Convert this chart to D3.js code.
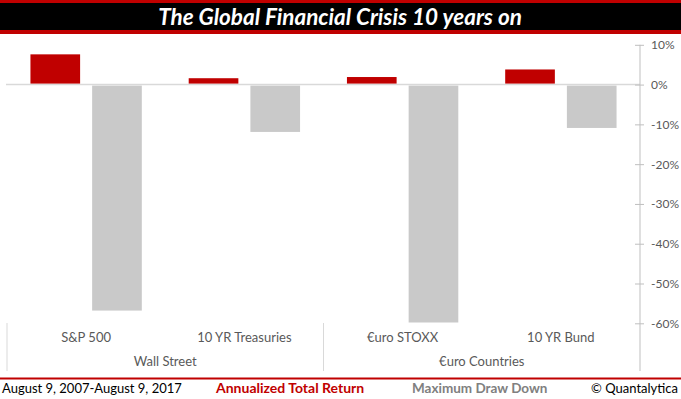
<!DOCTYPE html>
<html>
<head>
<meta charset="utf-8">
<script src="https://cdn.jsdelivr.net/npm/d3@7"></script>
<style>
  body { margin: 0; background: #fff; }
  svg { display: block; font-family: Lato, "Open Sans", sans-serif; }
</style>
</head>
<body>
<div id="chart"></div>
<script>
const width = 681, height = 399;

// Data (percent)
const assets = ["S&P 500", "10 YR Treasuries", "€uro STOXX", "10 YR Bund"];
const groups = [
    {label: "Wall Street", members: ["S&P 500", "10 YR Treasuries"]},
    {label: "€uro Countries", members: ["€uro STOXX", "10 YR Bund"]}
];
const annualReturn = [7.6, 1.6, 1.9, 3.8];
const maxDrawDown = [-56.8, -11.9, -59.8, -10.9];
const yTicks = [10, 0, -10, -20, -30, -40, -50, -60];

const seriesNames = ["Annualized Total Return", "Maximum Draw Down"];
const colorReturn = "#c00000";
const colorDrawDown = "#c9c9c9";

const rows = assets.map((a, i) => ({asset: a, values: [annualReturn[i], maxDrawDown[i]]}));

const svg = d3.select("#chart")
    .append("svg")
    .attr("width", width)
    .attr("height", height);

// Title band
svg.append("rect").attr("x", 0).attr("y", 0).attr("width", width).attr("height", 34).attr("fill", colorReturn);
svg.append("rect").attr("x", 0).attr("y", 3).attr("width", width).attr("height", 27).attr("fill", "#000");
svg.append("text")
    .attr("x", 340)
    .attr("y", 24.5)
    .attr("text-anchor", "middle")
    .style("font-size", "22.5px")
    .style("font-weight", "bold")
    .style("font-style", "italic")
    .style("fill", "#fff")
    .text("The Global Financial Crisis 10 years on");

// Scales
const x0 = d3.scaleBand()
    .domain(assets)
    .range([7, 640]);

const x1 = d3.scaleBand()
    .domain([0, 1])
    .range([0, x0.bandwidth()])
    .paddingInner(0.195)
    .paddingOuter(0.38);

const y = d3.scaleLinear()
    .domain([-60, 10])
    .range([323.3, 44.8]);

// zero line
svg.append("line")
    .attr("x1", 6).attr("x2", 640)
    .attr("y1", y(0)).attr("y2", y(0))
    .attr("stroke", "#d9d9d9")
    .attr("stroke-width", 1.5);

// Bars
const cat = svg.selectAll(".cat")
    .data(rows)
    .enter()
    .append("g")
    .attr("class", "cat")
    .attr("transform", d => `translate(${x0(d.asset)},0)`);

cat.selectAll("rect")
    .data(d => d.values.map((v, i) => ({i, v})))
    .enter()
    .append("rect")
    .attr("x", d => x1(d.i))
    .attr("width", x1.bandwidth())
    .attr("y", d => d.v >= 0 ? y(d.v) : y(0) + 1)
    .attr("height", d => d.v >= 0 ? y(0) - y(d.v) - 1 : y(d.v) - y(0) - 1)
    .attr("fill", d => d.i === 0 ? colorReturn : colorDrawDown);

// Right value axis
const yAxis = svg.append("g")
    .attr("transform", "translate(640,0)")
    .call(d3.axisRight(y)
        .tickValues(yTicks)
        .tickSize(0)
        .tickPadding(11)
        .tickFormat(d => d + "%"));
yAxis.select(".domain").remove();
yAxis.selectAll("text")
    .style("font-size", "12px")
    .style("fill", "#595959")
    .style("font-family", "Lato, sans-serif");
yAxis.selectAll(".tick")
    .append("line")
    .attr("x1", -5).attr("x2", 4)
    .attr("stroke", "#bfbfbf");
svg.append("line")
    .attr("x1", 640).attr("x2", 640)
    .attr("y1", y(10)).attr("y2", 371)
    .attr("stroke", "#bfbfbf");

// Category axis labels
svg.selectAll(".asset-label")
    .data(assets)
    .enter()
    .append("text")
    .attr("class", "asset-label")
    .attr("x", d => x0(d) + x0.bandwidth() / 2)
    .attr("y", 342)
    .attr("text-anchor", "middle")
    .style("font-size", "13px")
    .style("fill", "#595959")
    .text(d => d);

svg.selectAll(".group-label")
    .data(groups)
    .enter()
    .append("text")
    .attr("class", "group-label")
    .attr("x", d => (x0(d.members[0]) + x0(d.members[1]) + x0.bandwidth()) / 2)
    .attr("y", 366)
    .attr("text-anchor", "middle")
    .style("font-size", "13px")
    .style("fill", "#595959")
    .text(d => d.label);

// group separators
const seps = [x0(assets[0]), x0(assets[2])];
svg.selectAll(".sep")
    .data(seps)
    .enter()
    .append("line")
    .attr("x1", d => d).attr("x2", d => d)
    .attr("y1", 323).attr("y2", 371)
    .attr("stroke", "#d9d9d9");

// Footer
svg.append("line")
    .attr("x1", 0).attr("x2", width)
    .attr("y1", 378.5).attr("y2", 378.5)
    .attr("stroke", colorReturn)
    .attr("stroke-width", 2);

const footer = svg.append("g").style("font-size", "13px");
footer.append("text")
    .attr("x", 2).attr("y", 393)
    .style("fill", "#000")
    .text("August 9, 2007-August 9, 2017");
footer.append("text")
    .attr("x", 216).attr("y", 393)
    .style("fill", colorReturn)
    .style("font-weight", "bold")
    .style("font-size", "14px")
    .text(seriesNames[0]);
footer.append("text")
    .attr("x", 412).attr("y", 393)
    .style("fill", "#808080")
    .style("font-weight", "bold")
    .style("font-size", "13.5px")
    .text(seriesNames[1]);
footer.append("text")
    .attr("x", 678).attr("y", 393)
    .attr("text-anchor", "end")
    .style("fill", "#000")
    .text("© Quantalytica");
</script>
</body>
</html>
